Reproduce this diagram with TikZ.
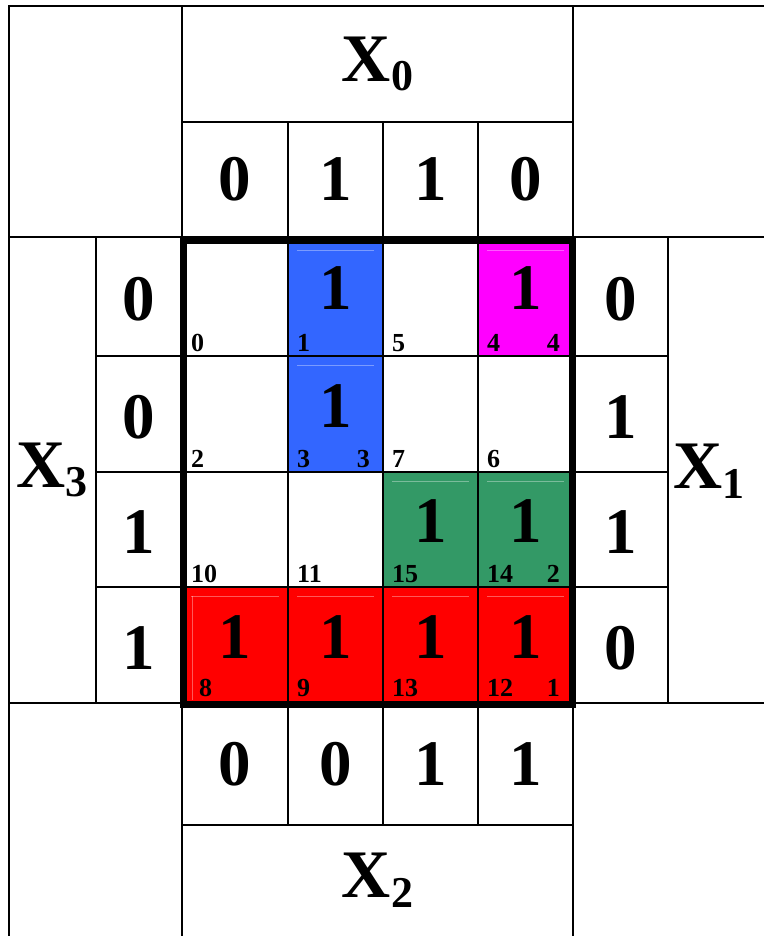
\documentclass[tikz,border=0pt]{standalone}
\usepackage{fontspec}
\setmainfont{Liberation Serif}
\usetikzlibrary{positioning}
\definecolor{kblue}{HTML}{3366FF}
\definecolor{kmag}{HTML}{FF00FF}
\definecolor{kgreen}{HTML}{339966}
\definecolor{kred}{HTML}{FF0000}
\newcommand{\kvar}[1]{X\raisebox{-0.14em}{\fontsize{44}{44}\selectfont #1}}

\begin{document}
\begin{tikzpicture}[x=1pt,y=-1pt,
 grid/.style={line width=1.5pt,line cap=rect},
 frame/.style={line width=7pt},
 gloss/.style={line width=0.6pt,white,opacity=0.35},
 bit/.style={font=\bfseries\fontsize{65}{65}\selectfont,inner sep=0pt},
 var/.style={font=\bfseries\fontsize{68}{68}\selectfont,inner sep=0pt},
 idx/.style={font=\bfseries\fontsize{26}{26}\selectfont,inner sep=0pt}]
\useasboundingbox (0,0) rectangle (763,936);
% coloured groups
\fill[kblue] (288,240) rectangle (383,472);
\fill[kmag] (478,240) rectangle (573,356);
\fill[kgreen] (383,472) rectangle (573,587);
\fill[kred] (182,587) rectangle (573,705);
\foreach \xa/\xb/\ya in {288/383/250,288/383/365,478/573/250,383/478/481,478/573/481,182/288/596,288/383/596,383/478/596,478/573/596}
  \draw[gloss] ({\xa+9},\ya) -- ({\xb-9},\ya);
\draw[gloss] (192,596) -- (192,700);
% table lines
\draw[grid] (9,936) -- (9,6) -- (763,6);
\draw[grid] (182,122) -- (573,122);
\draw[grid] (9,237) -- (763,237);
\foreach \y in {356,472,587} \draw[grid] (96,\y) -- (668,\y);
\draw[grid] (9,703) -- (763,703);
\draw[grid] (182,825) -- (573,825);
\draw[grid] (96,237) -- (96,703);
\draw[grid] (668,237) -- (668,703);
\foreach \x in {182,573} \draw[grid] (\x,6) -- (\x,936);
\foreach \x in {288,383,478} \draw[grid] (\x,122) -- (\x,825);
\draw[frame] (183,240) rectangle (572.5,704.5);
% variable labels
\node[var] (x0) at (377.5,64) {\kvar{0}};
\node[var] (x3) at (52,470) {\kvar{3}};
\node[var] (x1) at (709,471) {\kvar{1}};
\node[var] (x2) at (377.5,880) {\kvar{2}};
% gray code on the borders
\foreach \i/\xa/\xb/\t/\b in {0/182/288/0/0,1/288/383/1/0,2/383/478/1/1,3/478/573/0/1}{
  \node[bit] (top\i) at ({(\xa+\xb)/2},179.5) {\t};
  \node[bit] (bot\i) at ({(\xa+\xb)/2},764) {\b};
}
\foreach \j/\ya/\yb/\l/\r in {0/237/356/0/0,1/356/472/0/1,2/472/587/1/1,3/587/703/1/0}{
  \node[bit] (lft\j) at (139,{(\ya+\yb)/2+3}) {\l};
  \node[bit] (rgt\j) at (620.5,{(\ya+\yb)/2+3}) {\r};
}
% cell indices
\foreach \r/\c/\xa/\yb/\m in {0/0/182/356/0,0/1/288/356/1,0/2/383/356/5,0/3/478/356/4,
  1/0/182/472/2,1/1/288/472/3,1/2/383/472/7,1/3/478/472/6,
  2/0/182/587/10,2/1/288/587/11,2/2/383/587/15,2/3/478/587/14,
  3/0/190/701/8,3/1/288/701/9,3/2/383/701/13,3/3/478/701/12}
  \node[idx,anchor=base west] (i-\r-\c) at ({\xa+9},{\yb-5}) {\m};
\foreach \r/\c/\xb/\yb/\m in {0/3/573/356/4,1/1/383/472/3,2/3/573/587/2,3/3/573/701/1}
  \node[idx,anchor=base east] (e-\r-\c) at ({\xb-13},{\yb-5}) {\m};
% ones of the map
\foreach \r/\c/\xa/\xb/\ya/\yb in {0/1/288/383/237/356,0/3/478/573/237/356,1/1/288/383/356/472,2/2/383/478/472/587,2/3/478/573/472/587,3/0/182/288/587/703,3/1/288/383/587/703,3/2/383/478/587/703,3/3/478/573/587/703}
  \node[bit] (m-\r-\c) at ({(\xa+\xb)/2},{(\ya+\yb)/2-8}) {1};
\end{tikzpicture}
\end{document}
